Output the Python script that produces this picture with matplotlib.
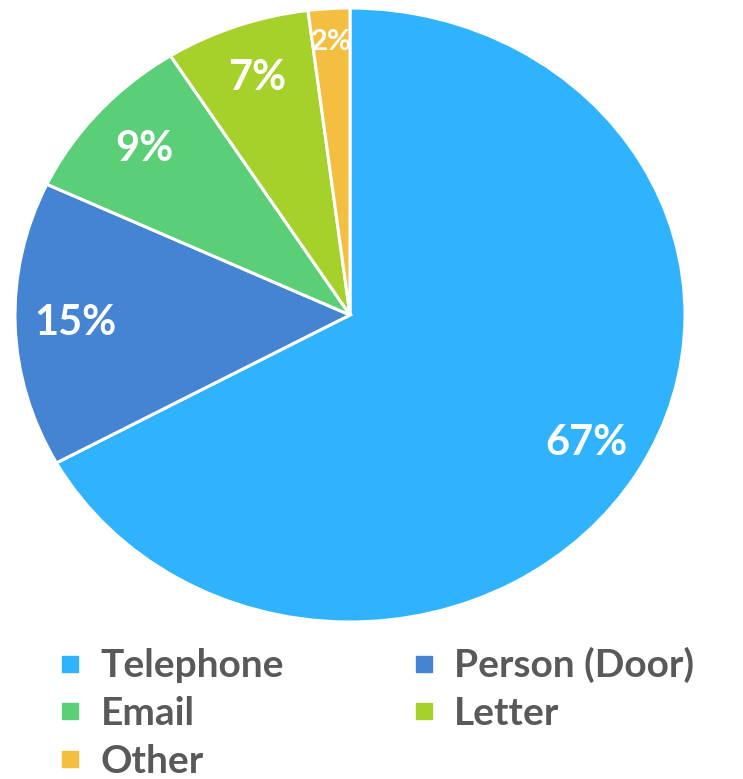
import matplotlib
matplotlib.use("Agg")
import matplotlib.pyplot as plt
from matplotlib.lines import Line2D
import numpy as np

labels = ["Telephone", "Person (Door)", "Email", "Letter", "Other"]
shares = [67, 15, 9, 7, 2]
colors = ["#30B3FF", "#4484D3", "#5ACF78", "#A6D02A", "#F4BF40"]

plt.rcParams["font.family"] = ["Lato", "DejaVu Sans"]

fig = plt.figure(figsize=(7.43, 7.79), dpi=100)
# pie is slightly wider than tall in the reference
ax = fig.add_axes([15 / 743, 157 / 779, 670 / 743, 614 / 779])

wedges, texts, autotexts = ax.pie(
    shares, colors=colors, startangle=90, counterclock=False,
    autopct="%d%%", pctdistance=0.82,
    wedgeprops=dict(edgecolor="white", linewidth=2.2),
    textprops=dict(color="white", fontsize=30, fontweight="bold"),
)
ax.set_aspect("auto")
ax.set_xlim(-1, 1)
ax.set_ylim(-1, 1)

# the thin slice label sits further out and smaller
w = wedges[-1]
mid = np.deg2rad((w.theta1 + w.theta2) / 2)
autotexts[-1].set_position((0.89 * np.cos(mid), 0.89 * np.sin(mid)))
autotexts[-1].set_fontsize(21)

order = [0, 2, 4, 1, 3]
handles = [Line2D([], [], marker="s", linestyle="none", markersize=12,
                  markerfacecolor=colors[i], markeredgecolor=colors[i])
           for i in order]
fig.legend(handles, [labels[i] for i in order], ncol=2,
           loc="upper left", bbox_to_anchor=(16 / 743, 1 - 612 / 779),
           frameon=False, handlelength=1.0, handletextpad=0.27,
           columnspacing=3.1, labelspacing=0.33,
           prop=dict(size=28, weight="bold"), labelcolor="#595959")

fig.savefig("out.png", dpi=100)
